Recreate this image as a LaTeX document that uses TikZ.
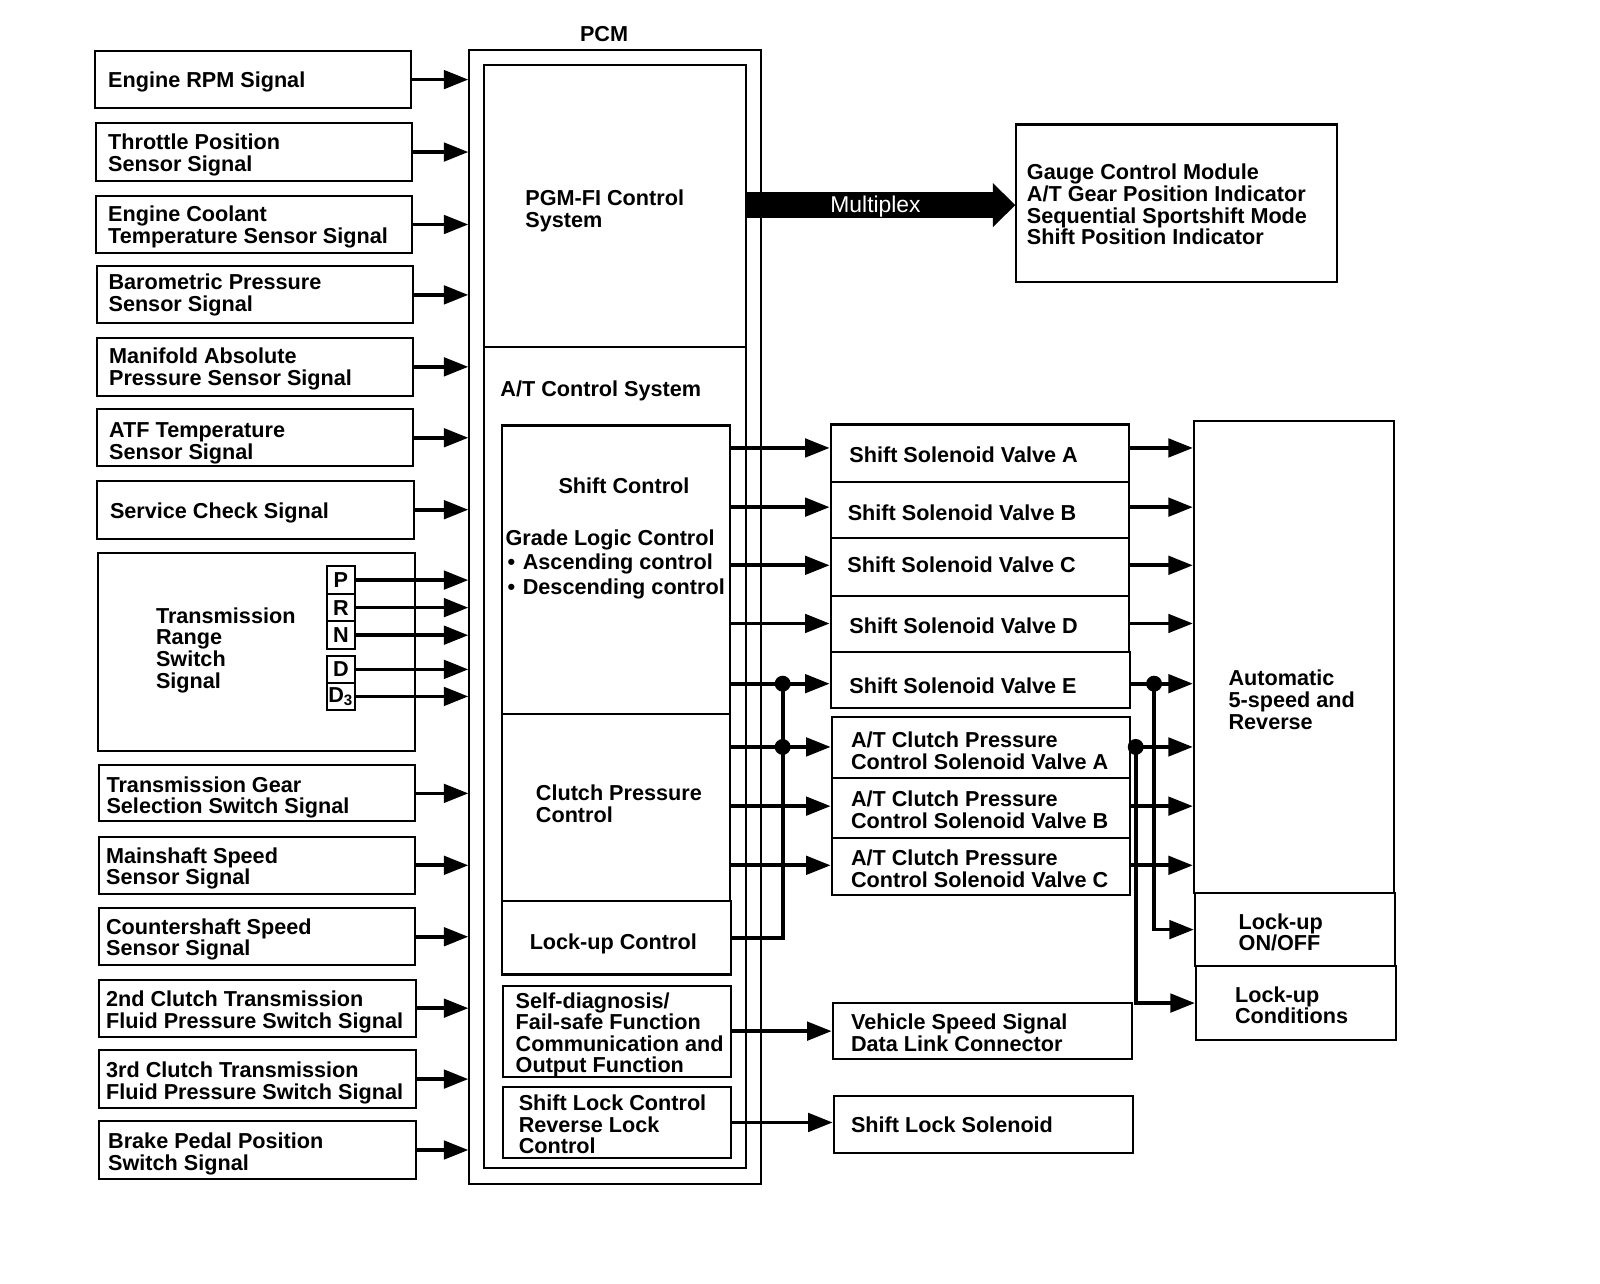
\documentclass[tikz,border=0pt]{standalone}
\usepackage{fontspec}
\setmainfont{Liberation Sans}
\usetikzlibrary{arrows.meta,fit}
\newcommand\lblfont{\fontsize{10.6}{10.6}\selectfont\bfseries}
\tikzset{
 bx/.style={draw, line width=1pt, inner sep=0pt, rectangle},
 tx/.style={font=\lblfont, inner sep=0pt, align=left, anchor=north west},
 ctx/.style={font=\lblfont, inner sep=0pt},
 arr/.style={line width=1.8pt, -{Triangle[length=12pt,width=9pt]}},
 wire/.style={line width=1.8pt},
 jdot/.style={circle, fill=black, inner sep=0pt, minimum size=7.8pt},
}
\begin{document}
\begin{tikzpicture}[x=0.5pt,y=-0.5pt]
\useasboundingbox (0,0) rectangle (1568,1258.3);

% ---------- PCM ----------
\node[bx, fit={(460,49)(746,1160)}] (pcm) {};
\node[ctx] (pcmlbl) at (592,33) {PCM};
\node[bx, fit={(474,64)(731,340)}] (pgm) {};
\node[bx, fit={(474,340)(731,1145)}] (atc) {};
\node[bx, fit={(492,417)(715,700)}] (shiftc) {};
\node[bx, fit={(492,700)(715,883)}] (clutch) {};
\node[bx, fit={(492,883)(716,955)}] (lockc) {};
\node[bx, fit={(493,966)(716,1055)}] (diag) {};
\node[bx, fit={(493,1065)(716,1135)}] (slc) {};

\node[tx] (tpgm) at (514.5,193.4-7.6) {PGM-FI Control\\System};
\node[tx] (tatc) at (490,380-7.6) {A/T Control System};
\node[ctx, anchor=north] (tshift) at (611.5,475.3-7.6) {Shift Control};
\node[tx] (tgrade) at (495,526.6-7.6) {Grade Logic Control\\[1.3pt]\hspace*{1pt}\makebox[7.5pt][l]{\textbullet}Ascending control\\[1.3pt]\hspace*{1pt}\makebox[7.5pt][l]{\textbullet}Descending control};
\node[tx] (tclutch) at (524.8,776.5-7.6) {Clutch Pressure\\Control};
\node[ctx, anchor=north] (tlockc) at (601,922.8-7.6) {Lock-up Control};
\node[tx, font=\fontsize{10.6}{10.35}\selectfont\bfseries] (tdiag) at (505,980.5-7.6) {Self-diagnosis/\\Fail-safe Function\\Communication and\\Output Function};
\node[tx] (tslc) at (508,1080.3-7.6) {Shift Lock Control\\Reverse Lock\\Control};

% ---------- input boxes ----------
\node[bx, fit={(93,50)(403,106)}] (b1) {};
\node[bx, fit={(94,121)(404,177)}] (b2) {};
\node[bx, fit={(94,192)(404,248)}] (b3) {};
\node[bx, fit={(95,261)(405,317)}] (b4) {};
\node[bx, fit={(95,331)(405,388)}] (b5) {};
\node[bx, fit={(95,401)(405,457)}] (b6) {};
\node[bx, fit={(95,471)(406,528)}] (b7) {};
\node[bx, fit={(96,542)(407,736)}] (trs) {};
\node[bx, fit={(97,750)(407,805)}] (b9) {};
\node[bx, fit={(97,820)(407,876)}] (b10) {};
\node[bx, fit={(97,890)(407,946)}] (b11) {};
\node[bx, fit={(97,960)(408,1016)}] (b12) {};
\node[bx, fit={(97,1029)(408,1086)}] (b13) {};
\node[bx, fit={(97,1099)(408,1155)}] (b14) {};

\node[tx] (t1) at (105.6,78-7.6) {Engine RPM Signal};
\node[tx] (t2) at (105.6,138.8-7.6) {Throttle Position\\Sensor Signal};
\node[tx] (t3) at (105.6,209-7.6) {Engine Coolant\\Temperature Sensor Signal};
\node[tx] (t4) at (106,276-7.6) {Barometric Pressure\\Sensor Signal};
\node[tx] (t5) at (106.5,348.5-7.6) {Manifold Absolute\\Pressure Sensor Signal};
\node[tx] (t6) at (106.6,421.4-7.6) {ATF Temperature\\Sensor Signal};
\node[tx] (t7) at (107.4,499.8-7.6) {Service Check Signal};
\node[tx] (ttrs) at (152.5,602.7-7.6) {Transmission\\Range\\Switch\\Signal};
\node[tx] (t9) at (104,768.3-7.6) {Transmission Gear\\Selection Switch Signal};
\node[tx] (t10) at (103.6,837.9-7.6) {Mainshaft Speed\\Sensor Signal};
\node[tx] (t11) at (103.6,907.2-7.6) {Countershaft Speed\\Sensor Signal};
\node[tx] (t12) at (103.6,978.4-7.6) {2nd Clutch Transmission\\Fluid Pressure Switch Signal};
\node[tx] (t13) at (103.6,1047.9-7.6) {3rd Clutch Transmission\\Fluid Pressure Switch Signal};
\node[tx] (t14) at (105.6,1117.8-7.6) {Brake Pedal Position\\Switch Signal};

% range switch positions
\node[bx, fit={(320,555)(348,582)}] (sP) {};
\node[bx, fit={(320,582)(348,609)}] (sR) {};
\node[bx, fit={(320,609)(348,636)}] (sN) {};
\node[bx, fit={(320,643)(348,669)}] (sD) {};
\node[bx, fit={(320,669)(348,696)}] (sD3) {};
\node[ctx] (lP) at (sP.center) {P};
\node[ctx] (lR) at (sR.center) {R};
\node[ctx] (lN) at (sN.center) {N};
\node[ctx] (lD) at (sD.center) {D};
\node[ctx] (lD3) at (sD3.center) {D\textsubscript{3}};

\foreach \b in {b1,b2,b3,b4,b5,b6,b7,sP,sR,sN,sD,sD3,b9,b10,b11,b12,b13,b14}
  \draw[arr] (\b.east) -- (\b.east -| pcm.west);

% ---------- gauge / multiplex ----------
\node[bx, fit={(996,122)(1310,276)}] (gauge) {};
\node[tx] (tgauge) at (1006,168-7.6) {Gauge Control Module\\A/T Gear Position Indicator\\Sequential Sportshift Mode\\Shift Position Indicator};
\coordinate (yM) at (0,201);
\draw[line width=13pt, -{Triangle[length=11pt,width=21pt]}] (pgm.east |- yM) -- (gauge.west |- yM);
\node[font=\fontsize{11.2}{11.2}\selectfont, text=white, inner sep=0pt] (mux) at (858,202.5) {Multiplex};

% ---------- output boxes ----------
\node[bx, fit={(814,416)(1106,472)}] (ssva) {};
\node[bx, fit={(814,472)(1106,527)}] (ssvb) {};
\node[bx, fit={(814,527)(1106,584)}] (ssvc) {};
\node[bx, fit={(814,584)(1106,639)}] (ssvd) {};
\node[bx, fit={(814,639)(1107,694)}] (ssve) {};
\node[bx, fit={(815,703)(1107,762)}] (atca) {};
\node[bx, fit={(815,762)(1107,821)}] (atcb) {};
\node[bx, fit={(815,821)(1107,877)}] (atcc) {};
\node[bx, fit={(816,983)(1109,1038)}] (vss) {};
\node[bx, fit={(817,1074)(1110,1130)}] (sls) {};

\node[tx] (tssva) at (832,445-7.6) {Shift Solenoid Valve A};
\node[tx] (tssvb) at (830.4,502.4-7.6) {Shift Solenoid Valve B};
\node[tx] (tssvc) at (830,552.7-7.6) {Shift Solenoid Valve C};
\node[tx] (tssvd) at (832,613-7.6) {Shift Solenoid Valve D};
\node[tx] (tssve) at (832,671.3-7.6) {Shift Solenoid Valve E};
\node[tx] (tatca) at (833.6,724.5-7.6) {A/T Clutch Pressure\\Control Solenoid Valve A};
\node[tx] (tatcb) at (833.6,782.4-7.6) {A/T Clutch Pressure\\Control Solenoid Valve B};
\node[tx] (tatcc) at (833.6,840.2-7.6) {A/T Clutch Pressure\\Control Solenoid Valve C};
\node[tx] (tvss) at (833.6,1001.2-7.6) {Vehicle Speed Signal\\Data Link Connector};
\node[tx] (tsls) at (833.6,1101.5-7.6) {Shift Lock Solenoid};

% ---------- transmission ----------
\node[bx, fit={(1170,413)(1366,875)}] (atbox) {};
\node[bx, fit={(1171,875)(1367,947)}] (lockon) {};
\node[bx, fit={(1172,947)(1368,1019)}] (lockcond) {};
\node[tx] (tatbox) at (1203.6,664-7.6) {Automatic\\5-speed and\\Reverse};
\node[tx] (tlockon) at (1213.5,902.6-7.6) {Lock-up\\ON/OFF};
\node[tx] (tlockcond) at (1210,974-7.6) {Lock-up\\Conditions};

% ---------- levels ----------
\coordinate (yA) at (0,439);
\coordinate (yB) at (0,497);
\coordinate (yC) at (0,554);
\coordinate (yD) at (0,611);
\coordinate (yE) at (0,670);
\coordinate (yF) at (0,732);
\coordinate (yG) at (0,790);
\coordinate (yH) at (0,848);

% PCM to valves
\draw[arr] (shiftc.east |- yA) -- (ssva.west |- yA);
\draw[arr] (shiftc.east |- yB) -- (ssvb.west |- yB);
\draw[arr] (shiftc.east |- yC) -- (ssvc.west |- yC);
\draw[arr] (shiftc.east |- yD) -- (ssvd.west |- yD);
\draw[arr] (shiftc.east |- yE) -- (ssve.west |- yE);
\draw[arr] (clutch.east |- yF) -- (atca.west |- yF);
\draw[arr] (clutch.east |- yG) -- (atcb.west |- yG);
\draw[arr] (clutch.east |- yH) -- (atcc.west |- yH);
\draw[arr] (diag.east) -- (diag.east -| vss.west);
\draw[arr] (slc.east) -- (slc.east -| sls.west);

% lock-up control junction
\node[jdot] (jE) at (767,670) {};
\node[jdot] (jF) at (767,732) {};
\draw[wire] (lockc.east) -| (jE.center);

% valves to transmission
\draw[arr] (ssva.east |- yA) -- (atbox.west |- yA);
\draw[arr] (ssvb.east |- yB) -- (atbox.west |- yB);
\draw[arr] (ssvc.east |- yC) -- (atbox.west |- yC);
\draw[arr] (ssvd.east |- yD) -- (atbox.west |- yD);
\draw[arr] (ssve.east |- yE) -- (atbox.west |- yE);
\draw[arr] (atca.east |- yF) -- (atbox.west |- yF);
\draw[arr] (atcb.east |- yG) -- (atbox.west |- yG);
\draw[arr] (atcc.east |- yH) -- (atbox.west |- yH);

\node[jdot] (kE) at (1131,670) {};
\node[jdot] (kF) at (1113,732) {};
\draw[arr] (kE.center) |- (lockon.west);
\draw[arr] (kF.center) |- (lockcond.west);
\end{tikzpicture}
\end{document}
